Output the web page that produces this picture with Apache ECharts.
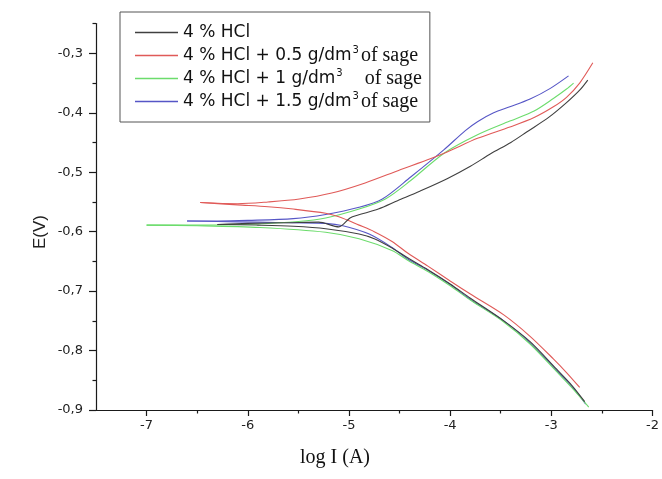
<!DOCTYPE html>
<html>
<head>
<meta charset="utf-8">
<script src="https://cdn.jsdelivr.net/npm/echarts@6/dist/echarts.min.js"></script>
<style>html,body{margin:0;padding:0;background:#fff}#c{width:662px;height:479px}</style>
</head>
<body>
<div id="c"></div>
<script>
// ---- data ----
const seriesNames = ['4 % HCl', '4 % HCl + 0.5 g/dm3 of sage', '4 % HCl + 1 g/dm3 of sage', '4 % HCl + 1.5 g/dm3 of sage'];
const legendMain = ['4 % HCl', '4 % HCl + 0.5 g/dm', '4 % HCl + 1 g/dm', '4 % HCl + 1.5 g/dm'];
const legendSup = ['', '3', '3', '3'];
const legendTail = ['', 'of sage', '    of sage', 'of sage'];

// Each curve: cathodic branch and anodic branch, both listed from the corrosion tip outward.
// 4 % HCl
const hclCathLogI = [-6.30,-6.20,-5.90,-5.55,-5.23,-4.90,-4.75,-4.57,-4.42,-4.22,-4.00,-3.80,-3.47,-3.21,-2.95,-2.80,-2.67];
const hclCathE    = [-0.588,-0.588,-0.589,-0.591,-0.595,-0.604,-0.612,-0.628,-0.644,-0.664,-0.688,-0.712,-0.750,-0.785,-0.831,-0.858,-0.886];
const hclAnLogI   = [-6.30,-6.00,-5.60,-5.30,-5.10,-4.99,-4.91,-4.71,-4.52,-4.30,-4.03,-3.80,-3.60,-3.40,-3.24,-3.02,-2.85,-2.72,-2.64];
const hclAnE      = [-0.588,-0.586,-0.585,-0.584,-0.592,-0.577,-0.572,-0.562,-0.548,-0.532,-0.511,-0.490,-0.469,-0.450,-0.432,-0.407,-0.383,-0.362,-0.345];

// + 0.5 g/dm3 sage
const s05CathLogI = [-6.47,-6.10,-5.80,-5.55,-5.23,-5.10,-4.90,-4.75,-4.57,-4.42,-4.22,-4.00,-3.80,-3.47,-3.21,-2.98,-2.85,-2.72];
const s05CathE    = [-0.551,-0.555,-0.558,-0.562,-0.569,-0.575,-0.589,-0.600,-0.617,-0.636,-0.658,-0.683,-0.705,-0.740,-0.776,-0.814,-0.837,-0.862];
const s05AnLogI   = [-6.47,-6.10,-5.80,-5.49,-5.17,-4.84,-4.51,-4.19,-4.03,-3.73,-3.41,-3.17,-2.98,-2.85,-2.72,-2.59];
const s05AnE      = [-0.551,-0.553,-0.550,-0.545,-0.535,-0.518,-0.497,-0.477,-0.466,-0.443,-0.424,-0.408,-0.390,-0.374,-0.350,-0.316];

// + 1 g/dm3 sage
const s1CathLogI = [-7.00,-6.50,-5.88,-5.23,-4.90,-4.57,-4.42,-4.22,-4.00,-3.80,-3.47,-3.21,-2.95,-2.80,-2.63];
const s1CathE    = [-0.589,-0.590,-0.593,-0.601,-0.612,-0.632,-0.648,-0.667,-0.691,-0.715,-0.752,-0.789,-0.835,-0.862,-0.895];
const s1AnLogI   = [-7.00,-6.50,-5.92,-5.50,-5.23,-4.90,-4.64,-4.39,-4.06,-3.73,-3.41,-3.17,-2.98,-2.85,-2.78];
const s1AnE      = [-0.589,-0.589,-0.587,-0.583,-0.577,-0.562,-0.545,-0.514,-0.468,-0.437,-0.414,-0.397,-0.376,-0.360,-0.350];

// + 1.5 g/dm3 sage
const s15CathLogI = [-6.60,-6.30,-5.90,-5.55,-5.23,-5.06,-4.80,-4.57,-4.42,-4.22,-4.00,-3.80,-3.47,-3.21,-2.95,-2.80,-2.66];
const s15CathE    = [-0.582,-0.583,-0.584,-0.585,-0.586,-0.590,-0.604,-0.627,-0.646,-0.665,-0.689,-0.714,-0.750,-0.787,-0.833,-0.860,-0.890];
const s15AnLogI   = [-6.60,-6.30,-6.00,-5.55,-5.23,-4.90,-4.67,-4.39,-4.06,-3.85,-3.73,-3.57,-3.41,-3.21,-3.01,-2.83];
const s15AnE      = [-0.582,-0.582,-0.581,-0.578,-0.571,-0.559,-0.545,-0.508,-0.462,-0.430,-0.415,-0.400,-0.390,-0.377,-0.359,-0.338];

const xMajor = [-7, -6, -5, -4, -3, -2];
const xMinor = [-6.5, -5.5, -4.5, -3.5, -2.5];
const yMajor = [-0.9, -0.8, -0.7, -0.6, -0.5, -0.4, -0.3];
const yMinor = [-0.85, -0.75, -0.65, -0.55, -0.45, -0.35, -0.25];

// ---- chart ----
const pair = (xs, ys) => xs.map((x, i) => [x, ys[i]]);
const colors = ['#404040', '#e05a58', '#6cdc6c', '#5656c6'];
const branches = [
  [pair(hclCathLogI, hclCathE), pair(hclAnLogI, hclAnE)],
  [pair(s05CathLogI, s05CathE), pair(s05AnLogI, s05AnE)],
  [pair(s1CathLogI, s1CathE), pair(s1AnLogI, s1AnE)],
  [pair(s15CathLogI, s15CathE), pair(s15AnLogI, s15AnE)]
];

const axisColor = '#1a1a1a';
const tickFont = { fontFamily: 'DejaVu Sans', fontSize: 13, color: '#222' };

const series = [];
branches.forEach((pairList, i) => {
  pairList.forEach(d => {
    series.push({
      name: seriesNames[i], type: 'line', data: d,
      showSymbol: false, symbol: 'none', smooth: 0.3, clip: false,
      itemStyle: { color: colors[i] },
      lineStyle: { color: colors[i], width: 1.1 }, z: 4 - i
    });
  });
});

const chart = echarts.init(document.getElementById('c'), null, { renderer: 'canvas' });
chart.setOption({
  animation: false,
  backgroundColor: '#fff',
  color: colors,
  grid: { left: 96, right: 5, top: 23.6, bottom: 69, containLabel: false },
  xAxis: [
    { type: 'value', min: -7.5, max: -2, position: 'bottom',
      axisLine: { show: true, onZero: false, lineStyle: { color: axisColor, width: 1.2 } },
      axisTick: { show: true, length: 6, customValues: xMajor, lineStyle: { color: axisColor, width: 1.2 } },
      axisLabel: { customValues: xMajor, margin: 9, formatter: v => String(v), ...tickFont },
      splitLine: { show: false } },
    { type: 'value', min: -7.5, max: -2, position: 'bottom', gridIndex: 0,
      axisLine: { show: false, onZero: false },
      axisTick: { show: true, length: 3.5, customValues: xMinor, lineStyle: { color: axisColor, width: 1.2 } },
      axisLabel: { show: false }, splitLine: { show: false } }
  ],
  yAxis: [
    { type: 'value', min: -0.9, max: -0.25, position: 'left',
      axisLine: { show: true, onZero: false, lineStyle: { color: axisColor, width: 1.2 } },
      axisTick: { show: true, length: 7, customValues: yMajor, lineStyle: { color: axisColor, width: 1.2 } },
      axisLabel: { customValues: yMajor, margin: 13, formatter: v => v.toFixed(1).replace('.', ','), ...tickFont },
      splitLine: { show: false } },
    { type: 'value', min: -0.9, max: -0.25, position: 'left', gridIndex: 0,
      axisLine: { show: false, onZero: false },
      axisTick: { show: true, length: 3.5, customValues: yMinor, lineStyle: { color: axisColor, width: 1.2 } },
      axisLabel: { show: false }, splitLine: { show: false } }
  ],
  legend: {
    orient: 'vertical', left: 120, top: 12,
    padding: [9, 8, 9, 15],
    itemGap: 0, itemWidth: 43, itemHeight: 1.6, icon: 'rect',
    borderColor: '#555', borderWidth: 1, backgroundColor: '#fff',
    data: seriesNames.map((n, i) => ({ name: n, icon: 'rect',
      itemStyle: { color: colors[i], borderWidth: 0, opacity: 1 } })),
    formatter: function (name) {
      const i = seriesNames.indexOf(name);
      let s = '{a|' + legendMain[i] + '}';
      if (legendSup[i]) s += '{s|' + legendSup[i] + '}';
      if (legendTail[i]) s += '{b|' + legendTail[i] + '}';
      return s;
    },
    textStyle: {
      lineHeight: 23, color: '#111',
      rich: {
        a: { fontFamily: 'DejaVu Sans', fontSize: 17, color: '#111', lineHeight: 23 },
        s: { fontFamily: 'DejaVu Sans', fontSize: 10, color: '#111', padding: [0, 2, 10, 1] },
        b: { fontFamily: 'Liberation Serif', fontSize: 20, color: '#111', lineHeight: 23 }
      }
    }
  },
  graphic: [
    { type: 'text', x: 40, y: 232, rotation: Math.PI / 2,
      style: { text: 'E(V)', fontFamily: 'Liberation Sans', fontSize: 17, fill: '#222', textAlign: 'center', textVerticalAlign: 'middle' } },
    { type: 'text', x: 335, y: 458,
      style: { text: 'log I (A)', fontFamily: 'Liberation Serif', fontSize: 20, fill: '#111', textAlign: 'center', textVerticalAlign: 'middle' } }
  ],
  series: series
});
</script>
</body>
</html>
